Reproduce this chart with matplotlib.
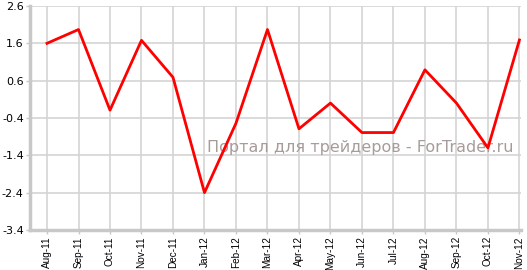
import matplotlib
matplotlib.use("Agg")
import matplotlib.pyplot as plt

months = ["Aug-11", "Sep-11", "Oct-11", "Nov-11", "Dec-11", "Jan-12", "Feb-12",
          "Mar-12", "Apr-12", "May-12", "Jun-12", "Jul-12", "Aug-12", "Sep-12",
          "Oct-12", "Nov-12"]
values = [1.6, 1.97, -0.19, 1.68, 0.69, -2.4, -0.54, 1.97, -0.69, 0.0,
          -0.79, -0.79, 0.89, 0.0, -1.2, 1.69]
yticks = [2.6, 1.6, 0.6, -0.4, -1.4, -2.4, -3.4]

fig = plt.figure(figsize=(5.27, 2.70), dpi=100)
ax = fig.add_axes([30 / 527, 1 - 230 / 270, 491 / 527, 224 / 270])

x = list(range(len(months)))
ax.plot(x, values, color="#ff0000", lw=2, zorder=3)

ax.set_xlim(-0.54, 15.05)
ax.set_ylim(-3.4, 2.6)
ax.set_xticks(x)
ax.set_xticklabels(months, rotation=90, fontsize=7.2, family="Liberation Sans")
ax.set_yticks(yticks)
ax.set_yticklabels(["%.1f" % v for v in yticks], fontsize=8)

ax.grid(True, color="#d4d4d4", lw=1.2)
ax.set_axisbelow(True)
for s in ["top", "right"]:
    ax.spines[s].set_visible(False)
for s in ["left", "bottom"]:
    ax.spines[s].set_color("#c8c8c8")
    ax.spines[s].set_linewidth(2.5)
ax.tick_params(length=3, width=1, color="#c8c8c8", pad=1.5, labelcolor="#000000")

ax.text(0.985, 0.37, "Портал для трейдеров - ForTrader.ru", transform=ax.transAxes,
        ha="right", va="center", fontsize=11.5, color="#a89c9a", zorder=2)

fig.savefig("out.png", dpi=100)
